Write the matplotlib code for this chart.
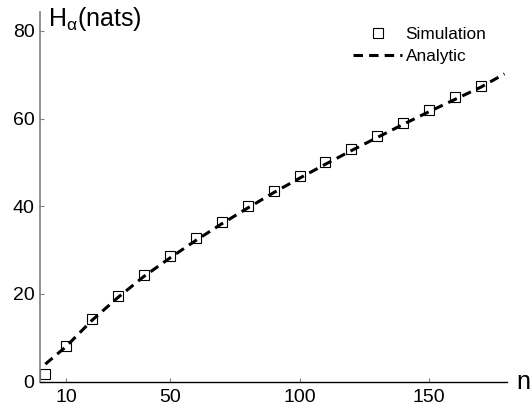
import matplotlib
matplotlib.use("Agg")
import matplotlib.pyplot as plt

plt.rcParams["font.family"] = ["Liberation Sans", "DejaVu Sans"]
plt.rcParams["mathtext.fontset"] = "custom"
plt.rcParams["mathtext.rm"] = "Liberation Sans"
plt.rcParams["mathtext.it"] = "Liberation Sans"

# simulation points
n_sim = [2, 10, 20, 30, 40, 50, 60, 70, 80, 90, 100, 110, 120, 130, 140, 150, 160, 170]
h_sim = [1.8, 8.2, 14.4, 19.6, 24.4, 28.7, 32.7, 36.5, 40.1, 43.5, 46.8,
         50.0, 53.1, 56.0, 59.1, 62.0, 64.9, 67.5]

# analytic curve
n_ana = [2, 10, 20, 30, 40, 50, 60, 70, 80, 90, 100, 110, 120, 130, 140, 150, 160, 170, 179]
h_ana = [4.0, 8.0, 14.0, 19.2, 24.0, 28.2, 32.2, 36.0, 39.6, 43.1, 46.4,
         49.6, 52.7, 55.7, 58.7, 61.6, 64.4, 67.2, 70.2]

xticks = [10, 50, 100, 150]
yticks = [0, 20, 40, 60, 80]

fig = plt.figure(figsize=(5.3, 4.08), dpi=100)
ax = fig.add_axes([0.0757, 0.0645, 0.881, 0.906])

ax.plot(n_sim, h_sim, "s", ms=7.5, mfc="white", mec="black", mew=0.8,
        label="Simulation", zorder=2)
ax.plot(n_ana, h_ana, "--", color="black", lw=2.2, dashes=(3.1, 2.0),
        label="Analytic", zorder=3)

ax.set_xlim(0, 180)
ax.set_ylim(0, 84.3)
ax.set_xticks(xticks)
ax.set_yticks(yticks)

for s in ["top", "right"]:
    ax.spines[s].set_visible(False)
ax.spines["left"].set_color("#7f7f7f")
ax.spines["left"].set_linewidth(1.2)
ax.spines["bottom"].set_color("black")
ax.spines["bottom"].set_linewidth(1.0)

ax.tick_params(axis="both", direction="in", length=3, width=0.8,
               color="#7f7f7f", labelsize=14)
ax.tick_params(axis="x", pad=5)
ax.tick_params(axis="y", pad=4)

fig.text(48 / 530, 1 - 26 / 408, r"H$_{\alpha}$(nats)", fontsize=18,
         va="baseline", ha="left")
fig.text(516 / 530, 1 - 389 / 408, "n", fontsize=18, va="baseline", ha="left")

leg = ax.legend(loc="upper left", bbox_to_anchor=(353 / 530, 1 - 27 / 408),
                bbox_transform=fig.transFigure, frameon=False, fontsize=12.4,
                handlelength=2.85, handletextpad=0.2, borderpad=0,
                borderaxespad=0, labelspacing=0.42)

fig.savefig("out.png", dpi=100)
